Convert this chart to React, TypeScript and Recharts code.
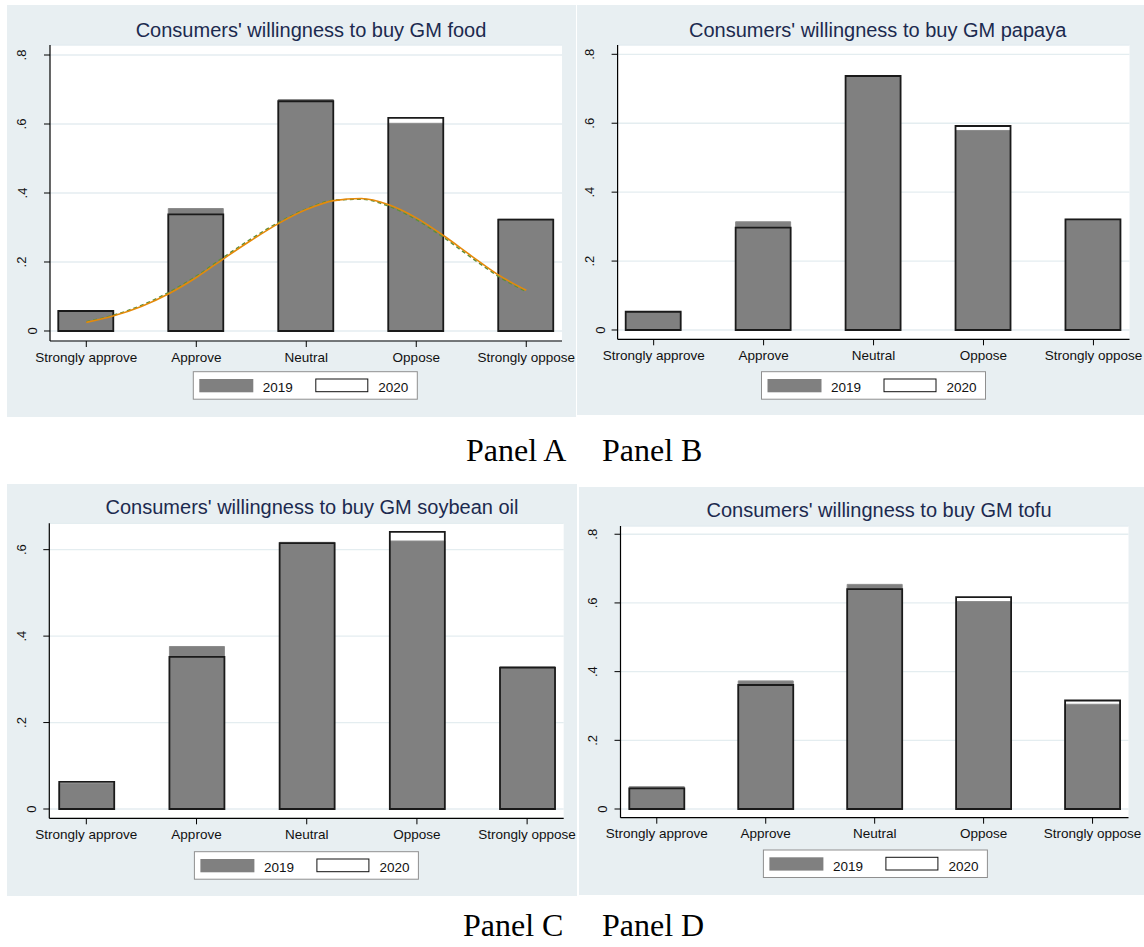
import React from 'react';
import { ComposedChart, Bar, Line, XAxis, YAxis, CartesianGrid } from 'recharts';

// answer categories, placed at 1..5 on a numeric axis
const categories = ['Strongly approve', 'Approve', 'Neutral', 'Oppose', 'Strongly oppose'];
const catIndex = [1, 2, 3, 4, 5];

// shares
const food2019 = [0.058, 0.355, 0.671, 0.602, 0.324];
const food2020 = [0.058, 0.338, 0.666, 0.618, 0.323];
const papaya2019 = [0.053, 0.314, 0.738, 0.579, 0.321];
const papaya2020 = [0.053, 0.297, 0.737, 0.592, 0.321];
const soyOil2019 = [0.059, 0.376, 0.617, 0.620, 0.329];
const soyOil2020 = [0.063, 0.352, 0.615, 0.641, 0.327];
const tofu2019 = [0.065, 0.373, 0.654, 0.604, 0.305];
const tofu2020 = [0.060, 0.361, 0.640, 0.617, 0.316];

// density curves drawn over panel A
const curveX = [1, 1.25, 1.5, 1.75, 2, 2.25, 2.5, 2.75, 3, 3.25, 3.5, 3.75, 4, 4.25, 4.5, 4.75, 5];
const curveSolid = [0.025, 0.044, 0.071, 0.108, 0.155, 0.21, 0.263, 0.312, 0.352, 0.378, 0.384, 0.366, 0.328, 0.276, 0.218, 0.162, 0.118];
const curveDashed = [0.027, 0.046, 0.074, 0.112, 0.159, 0.214, 0.267, 0.315, 0.354, 0.379, 0.382, 0.362, 0.323, 0.271, 0.213, 0.158, 0.114];

const yTicksTall = [0, 0.2, 0.4, 0.6, 0.8];
const yTicksShort = [0, 0.2, 0.4, 0.6];
const legendYears = ['2019', '2020'];

const SANS = '"Liberation Sans", Arial, sans-serif';
const SERIF = '"Liberation Serif", "Times New Roman", serif';
const BG = '#e8eff2';
const GRID = '#e4edf0';
const TITLE = '#1c2a4f';

const fmtY = (v: number) => (v === 0 ? '0' : String(v).replace(/^0/, ''));

function YTick(props: any) {
  const { x, y, payload } = props;
  const bx = x - (payload.value === 0 ? 7 : 17.5);
  return (
    <text x={bx} y={y} transform={`rotate(-90 ${bx} ${y})`} textAnchor="middle" fontSize={13} fontFamily={SANS} fill="#111">
      {fmtY(payload.value)}
    </text>
  );
}

interface PanelProps {
  left: number;
  top: number;
  width: number;
  height: number;
  plotLeft: number;
  plotRight: number;
  plotTop: number;
  axisY: number;
  xDomain: [number, number];
  yDomain: [number, number];
  yTicks: number[];
  title: string;
  titleX: number;
  titleY: number;
  legendX: number;
  legendY: number;
  s2019: number[];
  s2020: number[];
  withCurve?: boolean;
}

function Panel(p: PanelProps) {
  const rows = catIndex.map((x, i) => ({ x, y2019: p.s2019[i], y2020: p.s2020[i] }));
  const curve = curveX.map((x, i) => ({ x, solid: curveSolid[i], dashed: curveDashed[i] }));
  const lx = p.legendX;
  const ly = p.legendY;
  return (
    <div style={{ position: 'absolute', left: p.left, top: p.top, width: p.width, height: p.height, background: BG }}>
      <ComposedChart
        width={p.width}
        height={p.height}
        data={rows}
        barGap={-55}
        margin={{ top: p.plotTop, right: p.width - p.plotRight, left: 0, bottom: p.height - p.axisY - 30 }}
      >
        <CartesianGrid vertical={false} stroke={GRID} strokeWidth={1.3} fill="#ffffff" />
        <XAxis
          dataKey="x"
          type="number"
          domain={p.xDomain}
          allowDataOverflow
          ticks={catIndex}
          interval={0}
          height={30}
          tickFormatter={(v: number) => categories[v - 1]}
          tick={{ fontSize: 13.5, fontFamily: SANS, fill: '#111' }}
          tickSize={6}
          tickMargin={5}
          stroke="#000"
          axisLine={{ stroke: '#000', strokeWidth: 1.2 }}
        />
        <XAxis xAxisId="curve" dataKey="x" type="number" domain={p.xDomain} allowDataOverflow hide height={0} />
        <YAxis
          type="number"
          domain={p.yDomain}
          allowDataOverflow
          ticks={p.yTicks}
          width={p.plotLeft}
          tick={<YTick />}
          tickSize={6}
          tickMargin={0}
          stroke="#000"
          axisLine={{ stroke: '#000', strokeWidth: 1.2 }}
        />
        <Bar dataKey="y2019" barSize={55} fill="#808080" stroke="#8c8c8c" strokeWidth={1} isAnimationActive={false} />
        <Bar dataKey="y2020" barSize={55} fill="none" stroke="#1a1a1a" strokeWidth={1.8} isAnimationActive={false} />
        {p.withCurve && (
          <Line xAxisId="curve" data={curve} dataKey="dashed" type="monotone" dot={false} stroke="#5f8f3a" strokeWidth={1.6} strokeDasharray="4 3" isAnimationActive={false} />
        )}
        {p.withCurve && (
          <Line xAxisId="curve" data={curve} dataKey="solid" type="monotone" dot={false} stroke="#e58a0a" strokeWidth={1.6} isAnimationActive={false} />
        )}
      </ComposedChart>
      <svg width={p.width} height={p.height} style={{ position: 'absolute', left: 0, top: 0, pointerEvents: 'none' }}>
        <text x={p.titleX} y={p.titleY} textAnchor="middle" fontSize={20} fontFamily={SANS} fill={TITLE}>
          {p.title}
        </text>
        <rect x={lx} y={ly} width={224} height={27.5} fill="#fff" stroke="#8f8f8f" strokeWidth={1} />
        <rect x={lx + 6} y={ly + 7.3} width={54} height={13.3} fill="#808080" />
        <text x={lx + 69.5} y={ly + 20.6} fontSize={13.5} fontFamily={SANS} fill="#111">{legendYears[0]}</text>
        <rect x={lx + 122.5} y={ly + 7.3} width={52} height={12.7} fill="#fff" stroke="#111" strokeWidth={1} />
        <text x={lx + 185} y={ly + 20.6} fontSize={13.5} fontFamily={SANS} fill="#111">{legendYears[1]}</text>
      </svg>
    </div>
  );
}

export default function App() {
  return (
    <div style={{ position: 'absolute', left: 0, top: 0, width: 1144, height: 947, background: '#fff' }}>
      <Panel
        left={7} top={5} width={569} height={412}
        plotLeft={43} plotRight={555} plotTop={40} axisY={336}
        xDomain={[0.67, 5.325]} yDomain={[-0.029, 0.829]} yTicks={yTicksTall}
        title="Consumers' willingness to buy GM food" titleX={304} titleY={32.3}
        legendX={186.3} legendY={366.7}
        s2019={food2019} s2020={food2020} withCurve
      />
      <Panel
        left={577} top={5} width={567} height={410}
        plotLeft={40.6} plotRight={552.5} plotTop={40} axisY={334.3}
        xDomain={[0.672, 5.328]} yDomain={[-0.027, 0.827]} yTicks={yTicksTall}
        title="Consumers' willingness to buy GM papaya" titleX={300.7} titleY={32.3}
        legendX={184.5} legendY={366.7}
        s2019={papaya2019} s2020={papaya2020}
      />
      <Panel
        left={7} top={484} width={570} height={412}
        plotLeft={42.3} plotRight={556.7} plotTop={39.3} axisY={334.3}
        xDomain={[0.664, 5.332]} yDomain={[-0.0215, 0.661]} yTicks={yTicksShort}
        title="Consumers' willingness to buy GM soybean oil" titleX={305} titleY={30}
        legendX={187.4} legendY={367.7}
        s2019={soyOil2019} s2020={soyOil2020}
      />
      <Panel
        left={579} top={487} width={565} height={408}
        plotLeft={41.5} plotRight={549.5} plotTop={39} axisY={330.7}
        xDomain={[0.667, 5.33]} yDomain={[-0.0253, 0.824]} yTicks={yTicksTall}
        title="Consumers' willingness to buy GM tofu" titleX={300} titleY={29.7}
        legendX={184.4} legendY={363}
        s2019={tofu2019} s2020={tofu2020}
      />
      <div style={{ position: 'absolute', left: 0, top: 432, width: 1144, fontFamily: SERIF, fontSize: 32, color: '#000' }}>
        <span style={{ position: 'absolute', left: 466 }}>Panel A</span>
        <span style={{ position: 'absolute', left: 602 }}>Panel B</span>
      </div>
      <div style={{ position: 'absolute', left: 0, top: 907, width: 1144, fontFamily: SERIF, fontSize: 32, color: '#000' }}>
        <span style={{ position: 'absolute', left: 463 }}>Panel C</span>
        <span style={{ position: 'absolute', left: 602 }}>Panel D</span>
      </div>
    </div>
  );
}
